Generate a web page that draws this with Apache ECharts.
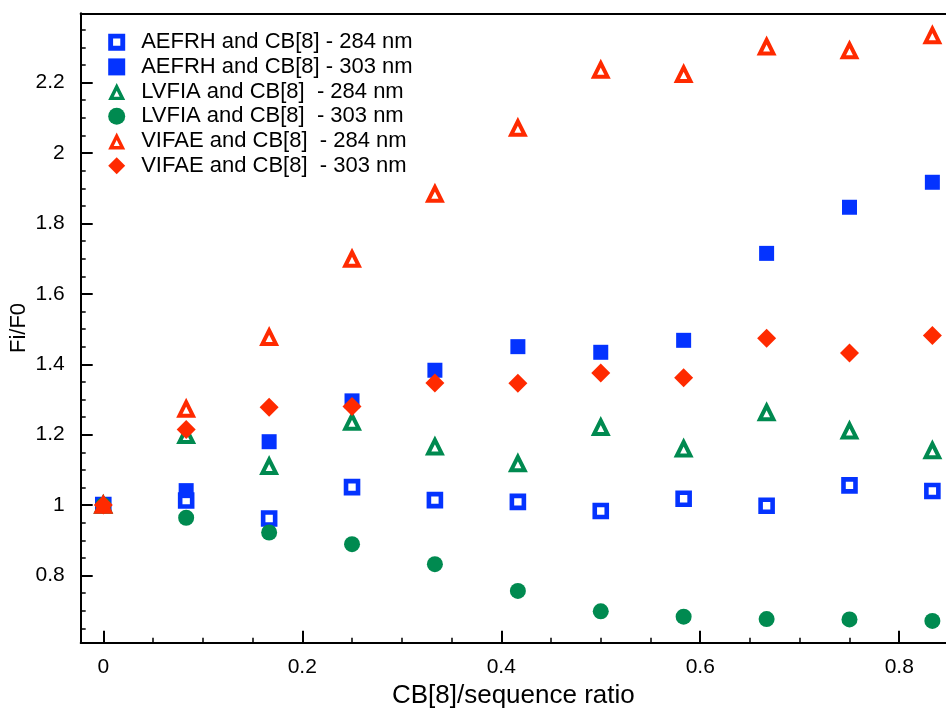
<!DOCTYPE html>
<html>
<head>
<meta charset="utf-8">
<script src="https://cdn.jsdelivr.net/npm/echarts@6/dist/echarts.min.js"></script>
<style>
html,body{margin:0;padding:0;background:#fff;}
#chart{width:946px;height:708px;}
</style>
</head>
<body>
<div id="chart"></div>
<script>
// ---- data ----
const xRatio   = [0, 0.0833, 0.1667, 0.25, 0.3333, 0.4167, 0.5, 0.5833, 0.6667, 0.75, 0.8333];
const aefrh284 = [1.0, 1.013, 0.962, 1.051, 1.014, 1.009, 0.983, 1.018, 0.998, 1.056, 1.040];
const aefrh303 = [1.0, 1.041, 1.180, 1.296, 1.383, 1.450, 1.434, 1.468, 1.715, 1.846, 1.917];
const lvfia284 = [1.0, 1.198, 1.110, 1.236, 1.166, 1.118, 1.221, 1.160, 1.263, 1.211, 1.155];
const lvfia303 = [1.0, 0.964, 0.922, 0.889, 0.832, 0.756, 0.698, 0.683, 0.676, 0.675, 0.671];
const vifae284 = [1.0, 1.273, 1.477, 1.699, 1.884, 2.071, 2.236, 2.224, 2.302, 2.291, 2.334];
const vifae303 = [1.0, 1.215, 1.278, 1.280, 1.347, 1.346, 1.375, 1.362, 1.474, 1.432, 1.482];

const seriesNames = [
  'AEFRH and CB[8] - 284 nm',
  'AEFRH and CB[8] - 303 nm',
  'LVFIA and CB[8]  - 284 nm',
  'LVFIA and CB[8]  - 303 nm',
  'VIFAE and CB[8]  - 284 nm',
  'VIFAE and CB[8]  - 303 nm'
];

const xMajorTicks = [0, 0.2, 0.4, 0.6, 0.8];
const xMinorTicks = [0.05, 0.1, 0.15, 0.25, 0.3, 0.35, 0.45, 0.5, 0.55, 0.65, 0.7, 0.75];
const yMajorTicks = [0.8, 1, 1.2, 1.4, 1.6, 1.8, 2, 2.2];
const yMinorTicks = [0.65, 0.7, 0.75, 0.85, 0.9, 0.95, 1.05, 1.1, 1.15, 1.25, 1.3, 1.35,
                     1.45, 1.5, 1.55, 1.65, 1.7, 1.75, 1.85, 1.9, 1.95, 2.05, 2.1, 2.15,
                     2.25, 2.3, 2.35];

const xTitle = 'CB[8]/sequence ratio';
const yTitle = 'Fi/F0';

// ---- style ----
const FONT = '"Liberation Sans", Arial, Helvetica, sans-serif';
const BLUE = '#0433FF';
const GREEN = '#008A50';
const RED = '#FF2A00';
const X_MIN = -0.0227, X_MAX = 0.847;
const Y_MIN = 0.609, Y_MAX = 2.397;
const RING_SQUARE = 'path://M0,0 H16 V16 H0 Z M4.6,4.6 V11.4 H11.4 V4.6 Z';
const RING_TRIANGLE = 'path://M10,0 L20,20 L0,20 Z M10,8.96 L6.5,15.98 L13.5,15.98 Z';

function pairs(ys) { return xRatio.map((x, i) => [x, ys[i]]); }

const chart = echarts.init(document.getElementById('chart'), null, {renderer: 'canvas'});

const hidden = {show: false};
const option = {
  animation: false,
  backgroundColor: '#fff',
  textStyle: {fontFamily: FONT},
  grid: {left: 80.7, right: 0, top: 13.3, bottom: 65.3, containLabel: false, outerBoundsMode: 'none'},
  legend: {
    orient: 'vertical',
    left: 103.2,
    top: 26.2,
    itemWidth: 17,
    itemHeight: 17,
    itemGap: 2.7,
    textStyle: {fontSize: 22, color: '#000', fontFamily: FONT, padding: [0, 0, 0, 11]},
    data: [
      {name: seriesNames[0], icon: RING_SQUARE, itemStyle: {color: BLUE, borderWidth: 0}},
      {name: seriesNames[1]},
      {name: seriesNames[2], icon: RING_TRIANGLE, itemStyle: {color: GREEN, borderWidth: 0}},
      {name: seriesNames[3]},
      {name: seriesNames[4], icon: RING_TRIANGLE, itemStyle: {color: RED, borderWidth: 0}},
      {name: seriesNames[5]}
    ]
  },
  xAxis: [
    {
      type: 'value', position: 'bottom', min: X_MIN, max: X_MAX,
      axisLine: {show: true, onZero: false, lineStyle: {color: '#000', width: 2}},
      axisTick: {show: true, inside: true, length: 12, lineStyle: {color: '#000', width: 2}, customValues: xMajorTicks},
      axisLabel: {show: true, customValues: xMajorTicks, fontSize: 21, color: '#000', margin: 14, fontFamily: FONT},
      splitLine: hidden,
      name: xTitle, nameLocation: 'middle', nameGap: 39,
      nameTextStyle: {fontSize: 26, color: '#000', fontFamily: FONT}
    },
    {
      type: 'value', position: 'bottom', min: X_MIN, max: X_MAX,
      axisLine: {show: false, onZero: false},
      axisTick: {show: true, inside: true, length: 5, lineStyle: {color: '#000', width: 1.5}, customValues: xMinorTicks},
      axisLabel: hidden, splitLine: hidden
    },
    {
      type: 'value', position: 'top', min: X_MIN, max: X_MAX,
      axisLine: {show: true, onZero: false, lineStyle: {color: '#000', width: 2}},
      axisTick: hidden, axisLabel: hidden, splitLine: hidden
    }
  ],
  yAxis: [
    {
      type: 'value', position: 'left', min: Y_MIN, max: Y_MAX,
      axisLine: {show: true, onZero: false, lineStyle: {color: '#000', width: 2}},
      axisTick: {show: true, inside: true, length: 12, lineStyle: {color: '#000', width: 2}, customValues: yMajorTicks},
      axisLabel: {show: true, customValues: yMajorTicks, fontSize: 21, color: '#000', margin: 16, fontFamily: FONT},
      splitLine: hidden,
      name: yTitle, nameLocation: 'middle', nameGap: 51, nameMoveOverlap: false,
      nameTextStyle: {fontSize: 22, color: '#000', fontFamily: FONT}
    },
    {
      type: 'value', position: 'left', min: Y_MIN, max: Y_MAX,
      axisLine: {show: false, onZero: false},
      axisTick: {show: true, inside: true, length: 5, lineStyle: {color: '#000', width: 1.5}, customValues: yMinorTicks},
      axisLabel: hidden, splitLine: hidden
    }
  ],
  series: [
    {
      name: seriesNames[0], type: 'scatter', xAxisIndex: 0, yAxisIndex: 0,
      symbol: 'rect', symbolSize: 12,
      itemStyle: {color: '#fff', borderColor: BLUE, borderWidth: 4.6, opacity: 1},
      data: pairs(aefrh284)
    },
    {
      name: seriesNames[1], type: 'scatter', xAxisIndex: 0, yAxisIndex: 0,
      symbol: 'rect', symbolSize: 15,
      itemStyle: {color: BLUE, opacity: 1},
      data: pairs(aefrh303)
    },
    {
      name: seriesNames[2], type: 'scatter', xAxisIndex: 0, yAxisIndex: 0,
      symbol: 'triangle', symbolSize: 13.5,
      itemStyle: {color: '#fff', borderColor: GREEN, borderWidth: 4, opacity: 1},
      data: pairs(lvfia284)
    },
    {
      name: seriesNames[3], type: 'scatter', xAxisIndex: 0, yAxisIndex: 0,
      symbol: 'circle', symbolSize: 16,
      itemStyle: {color: GREEN, opacity: 1},
      data: pairs(lvfia303)
    },
    {
      name: seriesNames[4], type: 'scatter', xAxisIndex: 0, yAxisIndex: 0,
      symbol: 'triangle', symbolSize: 13.5,
      itemStyle: {color: '#fff', borderColor: RED, borderWidth: 4, opacity: 1},
      data: pairs(vifae284)
    },
    {
      name: seriesNames[5], type: 'scatter', xAxisIndex: 0, yAxisIndex: 0,
      symbol: 'diamond', symbolSize: 19,
      itemStyle: {color: RED, opacity: 1},
      data: pairs(vifae303)
    }
  ]
};
chart.setOption(option);
</script>
</body>
</html>
